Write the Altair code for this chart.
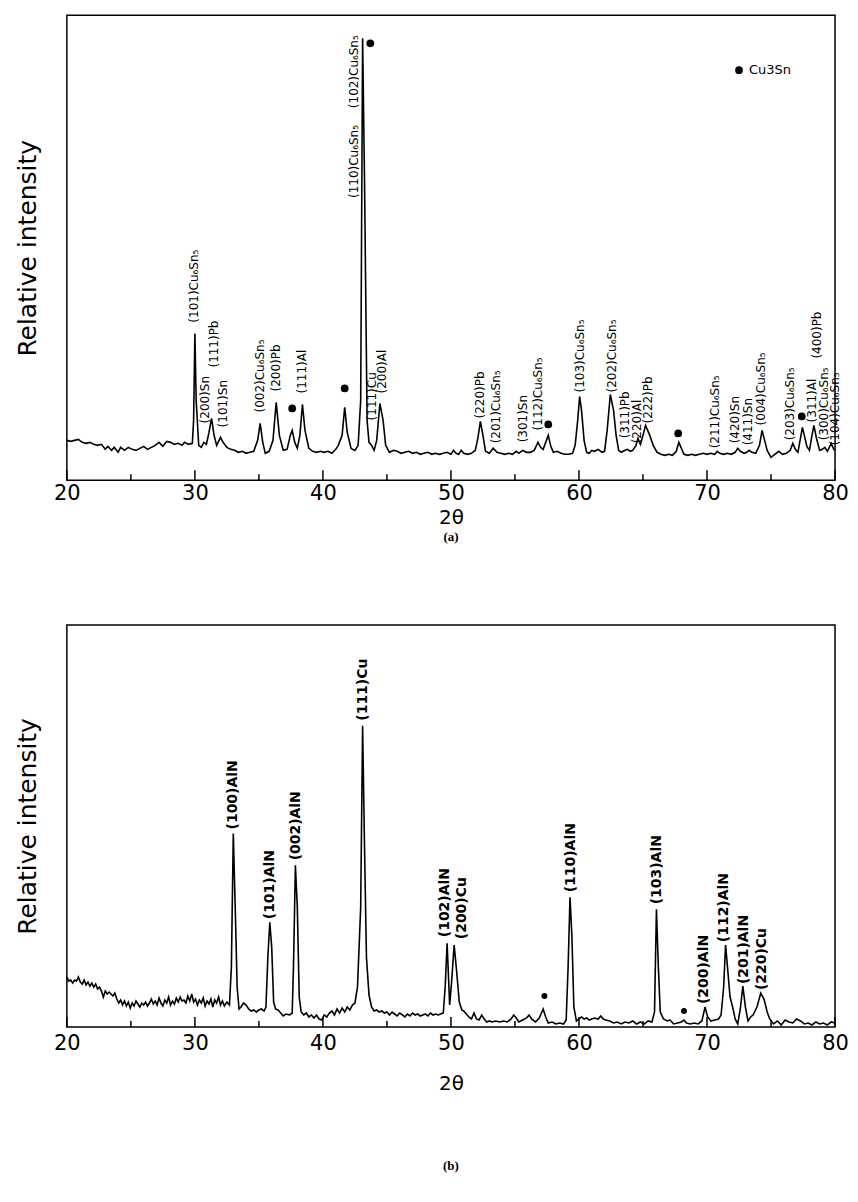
import altair as alt
import pandas as pd

FONT = "DejaVu Sans"

# ---------------- Panel (a) : diffraction trace ----------------
a_theta = [20.0, 20.3, 20.6, 20.9, 21.2, 21.5, 21.8, 22.1, 22.4, 22.7, 23.0, 23.2, 23.5, 23.7, 24.0,
           24.2, 24.5, 24.8, 25.1, 25.4, 25.7, 26.0, 26.3, 26.6, 26.9, 27.2, 27.5, 27.8, 28.1, 28.4,
           28.7, 29.0, 29.2, 29.5, 29.8, 29.9, 30.0, 30.1, 30.3, 30.5, 30.7, 30.9, 31.1, 31.3, 31.5,
           31.7, 32.0, 32.2, 32.5, 32.8, 33.1, 33.4, 33.7, 34.0, 34.3, 34.6, 34.9, 35.1, 35.3, 35.5,
           35.8, 36.1, 36.35, 36.6, 36.9, 37.2, 37.45, 37.6, 37.8, 38.0, 38.2, 38.4, 38.6, 38.9, 39.2,
           39.5, 39.8, 40.1, 40.4, 40.7, 41.0, 41.2, 41.5, 41.7, 41.9, 42.2, 42.5, 42.75, 42.95, 43.1,
           43.25, 43.45, 43.6, 43.8, 44.0, 44.2, 44.45, 44.7, 44.9, 45.2, 45.5, 45.8, 46.1, 46.4, 46.7,
           47.0, 47.3, 47.6, 47.9, 48.2, 48.5, 48.8, 49.1, 49.4, 49.7, 50.0, 50.2, 50.4, 50.6, 50.8,
           51.0, 51.3, 51.6, 51.9, 52.1, 52.3, 52.5, 52.7, 53.0, 53.3, 53.6, 53.9, 54.2, 54.5, 54.8,
           55.1, 55.3, 55.6, 55.9, 56.2, 56.5, 56.8, 57.0, 57.2, 57.4, 57.6, 57.8, 58.0, 58.3, 58.6,
           58.9, 59.2, 59.5, 59.7, 59.9, 60.05, 60.2, 60.4, 60.6, 60.8, 61.0, 61.2, 61.5, 61.8, 62.0,
           62.2, 62.45, 62.7, 62.9, 63.1, 63.3, 63.6, 63.8, 64.0, 64.2, 64.45, 64.6, 64.8, 65.0, 65.2,
           65.5, 65.8, 66.1, 66.4, 66.7, 67.0, 67.3, 67.6, 67.8, 68.0, 68.2, 68.5, 68.8, 69.1, 69.4,
           69.7, 70.0, 70.3, 70.6, 70.8, 71.0, 71.3, 71.6, 71.9, 72.2, 72.4, 72.6, 72.9, 73.1, 73.3,
           73.5, 73.8, 74.1, 74.3, 74.5, 74.7, 75.0, 75.3, 75.6, 75.9, 76.2, 76.5, 76.7, 76.9, 77.1,
           77.3, 77.45, 77.6, 77.8, 78.0, 78.2, 78.35, 78.55, 78.8, 79.0, 79.2, 79.4, 79.7, 79.9, 80.0]
a_intensity = [40, 39, 40, 41, 38, 37, 38, 36, 35, 36, 31, 34, 30, 33, 28,
               33, 30, 33, 31, 30, 32, 34, 31, 33, 35, 38, 34, 39, 38, 36,
               37, 35, 38, 36, 37, 60, 147, 80, 35, 33, 38, 36, 48, 62, 45,
               35, 43, 38, 33, 31, 30, 28, 29, 27, 28, 29, 40, 57, 38, 27,
               29, 40, 78, 45, 30, 31, 45, 50, 38, 32, 45, 76, 50, 32, 29,
               28, 29, 28, 29, 27, 31, 35, 45, 73, 48, 32, 30, 35, 80, 443,
               300, 60, 38, 35, 30, 40, 77, 60, 35, 28, 30, 29, 27, 28, 29,
               27, 28, 26, 27, 28, 26, 27, 26, 27, 28, 26, 30, 27, 26, 30,
               27, 26, 27, 30, 42, 59, 45, 29, 27, 32, 28, 27, 26, 27, 26,
               29, 27, 30, 28, 28, 30, 38, 33, 31, 38, 45, 34, 28, 29, 27,
               26, 26, 27, 35, 60, 84, 70, 40, 28, 27, 30, 29, 31, 28, 29,
               50, 86, 70, 45, 30, 28, 30, 31, 29, 30, 35, 42, 36, 45, 55,
               46, 35, 28, 26, 25, 26, 25, 29, 38, 32, 26, 25, 26, 25, 26,
               27, 26, 27, 26, 29, 27, 26, 27, 26, 28, 32, 29, 27, 28, 30,
               28, 27, 35, 50, 40, 30, 23, 26, 29, 26, 27, 30, 37, 31, 28,
               42, 53, 45, 34, 30, 45, 55, 42, 30, 31, 33, 29, 37, 31, 30]

a_labels = ["(101)Cu₆Sn₅", "(200)Sn", "(111)Pb", "(101)Sn", "(002)Cu₆Sn₅", "(200)Pb", "(111)Al",
            "(110)Cu₆Sn₅", "(102)Cu₆Sn₅", "(111)Cu", "(200)Al", "(220)Pb", "(201)Cu₆Sn₅", "(301)Sn",
            "(112)Cu₆Sn₅", "(103)Cu₆Sn₅", "(202)Cu₆Sn₅", "(311)Pb", "(220)Al", "(222)Pb",
            "(211)Cu₆Sn₅", "(420)Sn", "(411)Sn", "(004)Cu₆Sn₅", "(203)Cu₆Sn₅", "(311)Al", "(400)Pb",
            "(300)Cu₆Sn₅", "(104)Cu₆Sn₅"]
a_label_theta = [29.95, 30.8, 31.5, 32.2, 35.1, 36.3, 38.4,
                 42.45, 42.45, 43.8, 44.6, 52.3, 53.5, 55.6,
                 56.8, 60.05, 62.6, 63.6, 64.5, 65.4,
                 70.6, 72.2, 73.2, 74.2, 76.5, 78.2, 78.6,
                 79.1, 80.0]
a_label_base = [158, 57, 113, 53, 68, 89, 87,
                283, 373, 60, 87, 62, 37, 38,
                50, 88, 88, 42, 37, 57,
                32, 37, 35, 55, 40, 58, 122,
                40, 35]

a_dot_theta = [37.6, 41.7, 43.7, 57.6, 67.75, 77.4]
a_dot_int = [72, 92, 438, 56, 47, 64]

legend_theta = [72.5]
legend_int = [411]
legend_text = ["Cu3Sn"]

# ---------------- Panel (b) : diffraction trace ----------------
b_theta = [20.0, 20.15, 20.3, 20.45, 20.6, 20.75, 20.9, 21.05, 21.2, 21.35, 21.5, 21.65, 21.8, 21.95,
           22.1, 22.25, 22.4, 22.55, 22.7, 22.85, 23.0, 23.15, 23.3, 23.45, 23.6, 23.75, 23.9, 24.05,
           24.2, 24.35, 24.5, 24.65, 24.8, 24.95, 25.1, 25.25, 25.4, 25.55, 25.7, 25.85, 26.0, 26.15,
           26.3, 26.45, 26.6, 26.75, 26.9, 27.05, 27.2, 27.35, 27.5, 27.65, 27.8, 27.95, 28.1, 28.25,
           28.4, 28.55, 28.7, 28.85, 29.0, 29.15, 29.3, 29.45, 29.6, 29.75, 29.9, 30.05, 30.2, 30.35,
           30.5, 30.65, 30.8, 30.95, 31.1, 31.25, 31.4, 31.55, 31.7, 31.85, 32.0, 32.15, 32.3, 32.5,
           32.7, 32.85, 33.0, 33.15, 33.3, 33.45, 33.6, 33.8, 34.0, 34.2, 34.4, 34.6, 34.8, 35.0,
           35.2, 35.4, 35.55, 35.7, 35.85, 36.0, 36.15, 36.3, 36.5, 36.7, 36.9, 37.1, 37.4, 37.6,
           37.7, 37.85, 38.0, 38.15, 38.3, 38.5, 38.7, 38.9, 39.1, 39.3, 39.5, 39.7, 39.9, 40.1,
           40.3, 40.5, 40.7, 40.9, 41.1, 41.3, 41.5, 41.7, 41.9, 42.1, 42.3, 42.5, 42.7, 42.95,
           43.1, 43.25, 43.4, 43.6, 43.8, 44.0, 44.2, 44.4, 44.6, 44.8, 45.0, 45.2, 45.4, 45.6,
           45.8, 46.0, 46.2, 46.4, 46.6, 46.8, 47.0, 47.2, 47.4, 47.6, 47.8, 48.0, 48.2, 48.4,
           48.6, 48.8, 49.0, 49.2, 49.4, 49.55, 49.7, 49.9, 50.05, 50.25, 50.45, 50.65, 50.85, 51.0,
           51.2, 51.4, 51.6, 51.8, 52.0, 52.2, 52.4, 52.6, 52.8, 53.0, 53.2, 53.5, 53.8, 54.1,
           54.4, 54.7, 54.9, 55.1, 55.3, 55.6, 55.9, 56.1, 56.3, 56.6, 56.9, 57.2, 57.4, 57.6,
           57.9, 58.2, 58.5, 58.8, 59.0, 59.15, 59.3, 59.45, 59.6, 59.8, 60.0, 60.2, 60.4, 60.6,
           60.8, 61.0, 61.2, 61.5, 61.7, 61.9, 62.1, 62.4, 62.7, 63.0, 63.3, 63.6, 63.9, 64.2,
           64.5, 64.8, 65.1, 65.4, 65.7, 65.9, 66.05, 66.2, 66.35, 66.6, 66.9, 67.1, 67.4, 67.7,
           68.0, 68.2, 68.4, 68.7, 69.0, 69.3, 69.6, 69.85, 70.05, 70.3, 70.6, 70.9, 71.1, 71.3,
           71.45, 71.6, 71.8, 72.0, 72.2, 72.4, 72.6, 72.8, 73.0, 73.2, 73.4, 73.6, 73.9, 74.2,
           74.45, 74.7, 74.9, 75.2, 75.5, 75.8, 76.1, 76.4, 76.7, 77.0, 77.3, 77.6, 77.9, 78.2,
           78.5, 78.8, 79.1, 79.4, 79.7, 80.0]
b_intensity = [50, 46, 47, 44, 47, 46, 50, 45, 43, 47, 42, 45, 41, 44,
               40, 43, 38, 40, 36, 30, 36, 33, 35, 33, 31, 34, 28, 24,
               27, 22, 26, 21, 25, 19, 24, 21, 26, 23, 20, 24, 22, 25,
               21, 24, 28, 23, 26, 22, 29, 24, 21, 27, 24, 30, 22, 26,
               23, 29, 25, 30, 26, 27, 24, 31, 26, 33, 25, 28, 22, 27,
               24, 29, 21, 26, 23, 28, 20, 27, 24, 30, 22, 26, 21, 25,
               22, 60, 194, 120, 40, 18, 20, 24, 22, 18, 16, 17, 15, 17,
               18, 16, 20, 70, 105, 80, 25, 18, 17, 14, 11, 13, 12, 14,
               60, 162, 120, 30, 15, 12, 14, 10, 12, 9, 12, 8, 7, 12,
               10, 14, 16, 12, 18, 14, 19, 15, 20, 17, 22, 24, 40, 120,
               302, 180, 70, 32, 20, 16, 17, 15, 16, 14, 15, 12, 15, 13,
               11, 14, 12, 10, 13, 11, 14, 12, 13, 11, 12, 13, 11, 14,
               12, 13, 12, 13, 14, 40, 84, 22, 45, 82, 55, 25, 17, 16,
               13, 10, 8, 14, 8, 7, 12, 8, 5, 6, 5, 6, 5, 6,
               5, 8, 12, 9, 5, 7, 9, 12, 8, 5, 9, 18, 10, 4,
               5, 3, 4, 3, 7, 60, 130, 90, 20, 6, 8, 10, 8, 9,
               7, 8, 9, 8, 11, 8, 7, 6, 4, 5, 3, 5, 4, 6,
               3, 5, 3, 6, 5, 15, 118, 60, 15, 8, 6, 7, 3, 4,
               5, 7, 4, 3, 4, 3, 6, 20, 10, 6, 7, 8, 12, 40,
               82, 60, 30, 20, 8, 3, 18, 41, 20, 6, 10, 12, 20, 34,
               28, 15, 8, 3, 6, 2, 7, 5, 4, 8, 6, 3, 4, 2,
               5, 3, 4, 2, 5, 4]

b_labels = ["(100)AlN", "(101)AlN", "(002)AlN", "(111)Cu", "(102)AlN", "(200)Cu", "(110)AlN",
            "(103)AlN", "(200)AlN", "(112)AlN", "(201)AlN", "(220)Cu"]
b_label_theta = [33.0, 35.9, 37.9, 43.15, 49.5, 50.9, 59.35, 66.1, 69.8, 71.3, 72.9, 74.3]
b_label_base = [198, 108, 167, 307, 90, 88, 135, 123, 23, 85, 43, 37]

b_dot_theta = [57.3, 68.2]
b_dot_int = [31, 16]

major_ticks = [20, 30, 40, 50, 60, 70, 80]
minor_ticks = [25, 35, 45, 55, 65, 75]

W = 770


def panel(theta, inten, labels, lab_x, lab_y, dot_x, dot_y, ymax, H,
          lab_size, lab_weight, dot_size, caption, label_pad, title_pad, cap_offset, extra=None):
    xs = alt.Scale(domain=[20, 80], nice=False, zero=False)
    ys = alt.Scale(domain=[0, ymax], nice=False, zero=True)
    x_axis = alt.Axis(values=major_ticks, ticks=False, domain=False, grid=False,
                      labelFont=FONT, labelFontSize=21, labelColor="black",
                      labelPadding=label_pad, labelFlush=False, format="d",
                      title="2θ", titleFont=FONT, titleFontSize=20,
                      titleFontWeight="normal", titleColor="black",
                      titlePadding=title_pad)
    y_axis = alt.Axis(labels=False, ticks=False, domain=False, grid=False,
                      title="Relative intensity", titleFont=FONT, titleFontSize=25,
                      titleFontWeight="normal", titleColor="black", titlePadding=26)

    def X(field):
        return alt.X(field, scale=xs, axis=x_axis, title="2θ")

    def Y(field):
        return alt.Y(field, scale=ys, axis=y_axis, title="Relative intensity")

    trace = pd.DataFrame({"theta": theta, "intensity": inten})
    lab = pd.DataFrame({"theta": lab_x, "intensity": lab_y, "label": labels})
    dots = pd.DataFrame({"theta": dot_x, "intensity": dot_y})

    line = alt.Chart(trace).mark_line(color="black", strokeWidth=1.6).encode(
        x=X("theta:Q"), y=Y("intensity:Q"))
    text = alt.Chart(lab).mark_text(angle=270, align="left", baseline="middle", font=FONT,
                                    fontSize=lab_size, fontWeight=lab_weight, color="black").encode(
        x=X("theta:Q"), y=Y("intensity:Q"), text="label:N")
    pts = alt.Chart(dots).mark_point(filled=True, shape="circle", size=dot_size, color="black",
                                     opacity=1).encode(x=X("theta:Q"), y=Y("intensity:Q"))
    tmaj = alt.Chart(pd.DataFrame({"theta": major_ticks})).mark_rule(color="black", strokeWidth=1.5).encode(
        x=X("theta:Q"), y=alt.value(H), y2=alt.value(H - 10))
    tmin = alt.Chart(pd.DataFrame({"theta": minor_ticks})).mark_rule(color="black", strokeWidth=1.5).encode(
        x=X("theta:Q"), y=alt.value(H), y2=alt.value(H - 6))
    layers = [line, text, pts, tmaj, tmin]
    if extra is not None:
        layers += extra(X, Y)
    return alt.layer(*layers).properties(
        width=W, height=H,
        title=alt.TitleParams(caption, orient="bottom", font="Liberation Serif", fontSize=13,
                              fontWeight="bold", color="black", offset=cap_offset),
    )


def legend_layers(X, Y):
    leg = pd.DataFrame({"theta": legend_theta, "intensity": legend_int, "label": legend_text})
    dot = alt.Chart(leg).mark_point(filled=True, shape="circle", size=60, color="black",
                                    opacity=1).encode(x=X("theta:Q"), y=Y("intensity:Q"))
    txt = alt.Chart(leg).mark_text(align="left", baseline="middle", dx=10, font=FONT,
                                   fontSize=13, color="black").encode(
        x=X("theta:Q"), y=Y("intensity:Q"), text="label:N")
    return [dot, txt]


panel_a = panel(a_theta, a_intensity, a_labels, a_label_theta, a_label_base,
                a_dot_theta, a_dot_int, 466, 466, 12, "normal", 60, "(a)", 2, 4, 4, legend_layers)
panel_b = panel(b_theta, b_intensity, b_labels, b_label_theta, b_label_base,
                b_dot_theta, b_dot_int, 403, 403, 14, "bold", 35, "(b)", 6, 20, 66)

chart = alt.vconcat(panel_a, panel_b, spacing=79).properties(
    padding={"left": 7, "top": 5, "right": 0, "bottom": 0},
    background="white",
).configure_view(stroke="black", strokeWidth=1.5)

chart.save("out.html", embed_options={"renderer": "svg", "actions": False})
